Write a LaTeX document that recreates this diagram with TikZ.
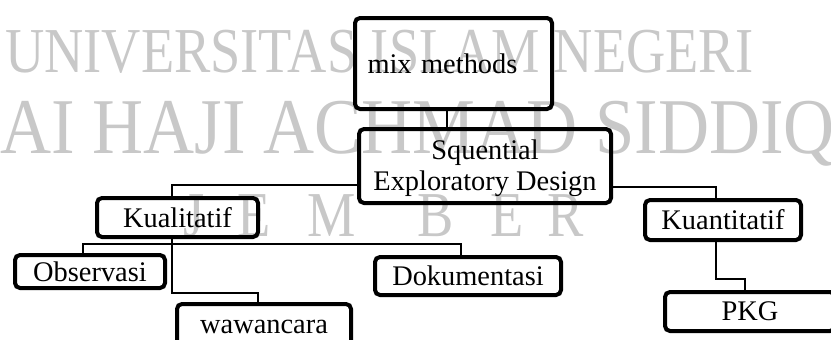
\documentclass[tikz,border=0pt]{standalone}
\usepackage{fontspec}
\setmainfont{Liberation Serif}
\usetikzlibrary{calc}
\definecolor{wmgray}{RGB}{200,200,200}
\tikzset{
  box/.style={draw=black, line width=4pt, rounded corners=5pt, inner sep=0pt,
    align=center, font=\fontsize{28.4}{31}\selectfont},
  conn/.style={draw=black, line width=1.3pt},
  wmark/.style={text=wmgray, inner sep=0pt, anchor=base west}
}
\begin{document}
\begin{tikzpicture}[x=1pt,y=-1pt]
\useasboundingbox (0,0) rectangle (831,340);
\clip (0,0) rectangle (831,340);
% watermark
\node[wmark, xscale=.85, font=\fontsize{64}{70}\selectfont] (wm1) at (5,72) {UNIVERSITAS ISLAM NEGERI};
\node[wmark, xscale=.895, font=\fontsize{79}{85}\selectfont] (wm2) at (0,153) {AI HAJI ACHMAD SIDDIQ};
\foreach \ltr/\px [count=\i] in {J/183,E/237,M/307,B/417,E/490,R/547}
  \node[wmark, xscale=.85, font=\fontsize{64}{70}\selectfont] (wj\i) at (\px,236) {\ltr};
% boxes
\node[box, minimum width=197pt, minimum height=91pt, text width=172pt, align=left] (mix) at (453.5,63.5) {mix methods};
\node[box, minimum width=252pt, minimum height=74pt] (squ) at (485,166) {\rule{0pt}{25pt}Squential\\Exploratory Design};
\node[box, minimum width=161pt, minimum height=39pt] (kual) at (177.5,217.5) {Kualitatif};
\node[box, minimum width=156pt, minimum height=40pt] (kuan) at (723,220) {Kuantitatif};
\node[box, minimum width=150pt, minimum height=33pt] (obs) at (90,271.5) {Observasi};
\node[box, minimum width=186pt, minimum height=38pt] (doku) at (468,276) {Dokumentasi};
\node[box, minimum width=174pt, minimum height=46pt] (waw) at (264,327) {wawancara};
\node[box, minimum width=170pt, minimum height=39pt] (pkg) at (750,311.5) {PKG};
% connectors
\draw[conn] ([xshift=-6.5pt]mix.south) -- ([xshift=-6.5pt]mix.south |- squ.north);
\draw[conn] ([yshift=-19pt]squ.west) -| ([xshift=-5.5pt]kual.north);
\draw[conn] ([yshift=-21pt]squ.east) -| ([xshift=-7pt]kuan.north);
\draw[conn] ([xshift=-5.5pt]kual.south) -- ++(0,5) -| ([xshift=-7pt]obs.north);
\draw[conn] ([xshift=-5.5pt]kual.south) -- ++(0,5) -| ([xshift=-7pt]doku.north);
\draw[conn] ([xshift=-5.5pt]kual.south) -- ++(0,54) -| ([xshift=-6pt]waw.north);
\draw[conn] ([xshift=-7pt]kuan.south) -- ++(0,37) -| ([xshift=-5pt]pkg.north);
\end{tikzpicture}
\end{document}
